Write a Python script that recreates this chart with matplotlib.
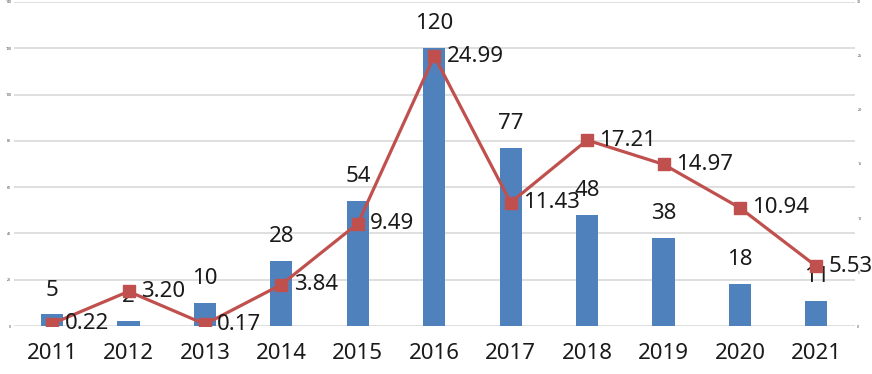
import matplotlib
matplotlib.use("Agg")
import matplotlib.pyplot as plt
import numpy as np

years = ["2011", "2012", "2013", "2014", "2015", "2016", "2017", "2018", "2019", "2020", "2021"]
counts = [5, 2, 10, 28, 54, 120, 77, 48, 38, 18, 11]
rates = [0.22, 3.20, 0.17, 3.84, 9.49, 24.99, 11.43, 17.21, 14.97, 10.94, 5.53]
rate_labels = ["0.22", "3.20", "0.17", "3.84", "9.49", "24.99", "11.43", "17.21", "14.97", "10.94", "5.53"]

bar_color = "#4F81BD"
line_color = "#C0504D"
text_color = "#1a1a1a"

plt.rcParams["font.family"] = ["Noto Sans", "DejaVu Sans"]

fig = plt.figure(figsize=(8.72, 3.74), dpi=100)
ax = fig.add_axes([0.016, 0.1283, 0.964, 0.8664])
ax2 = ax.twinx()

x = np.arange(len(years))
ax.bar(x, counts, width=0.29, color=bar_color, zorder=2)
ax.set_ylim(0, 140)
ax.set_yticks(np.arange(0, 141, 20))
ax.set_xlim(-0.5, len(years) - 0.5)
ax.grid(axis="y", color="#D9D9D9", linewidth=1.2, zorder=0)
ax.set_axisbelow(True)
ax.set_xticks(x)
ax.set_xticklabels(years, fontsize=16, color=text_color)
ax.tick_params(axis="x", length=0, pad=12)
ax.tick_params(axis="y", length=0, labelsize=2.5, pad=2, labelcolor="#333333")

for xi, c in zip(x, counts):
    ax.text(xi, c + 6, str(c), ha="center", va="bottom", fontsize=16, color=text_color, zorder=5)

ax2.plot(x, rates, color=line_color, linewidth=2.3, marker="s", markersize=8, zorder=3)
ax2.set_ylim(0, 30)
ax2.set_yticks(np.arange(0, 31, 5))
ax2.tick_params(axis="y", length=0, labelsize=2.5, pad=2, labelcolor="#333333")
for xi, r, lab in zip(x, rates, rate_labels):
    ax2.text(xi + 0.16, r, lab, ha="left", va="center", fontsize=16, color=text_color, zorder=5)

for a in (ax, ax2):
    for s in a.spines.values():
        s.set_visible(False)

fig.savefig("out.png", dpi=100)
